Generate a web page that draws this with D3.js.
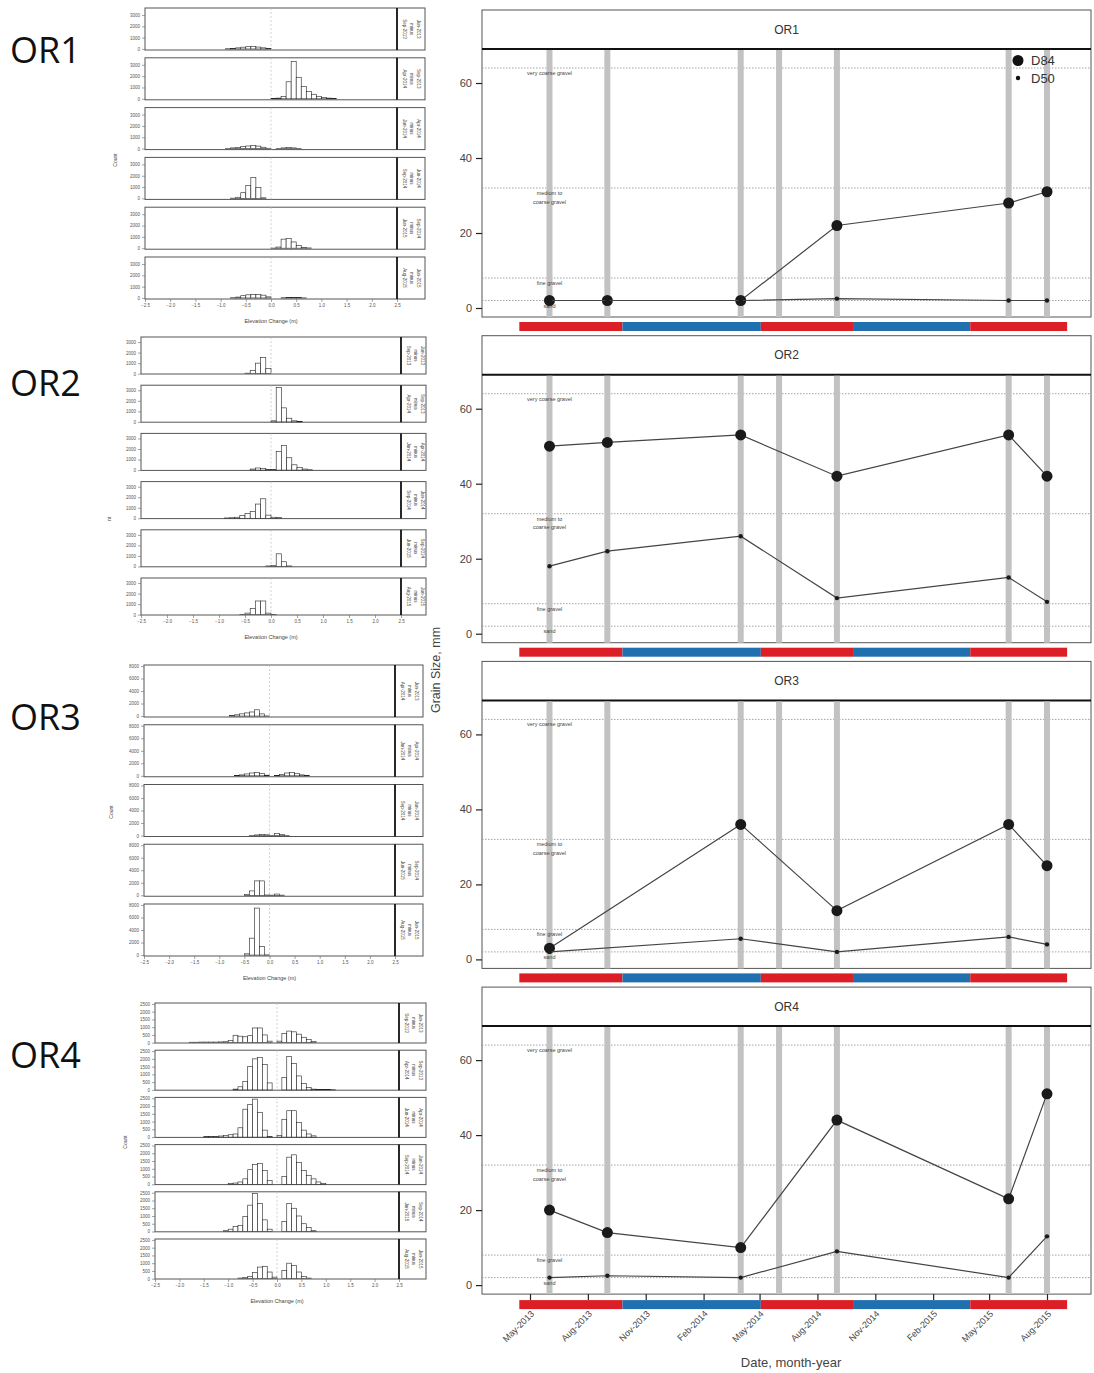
<!DOCTYPE html>
<html>
<head>
<meta charset="utf-8">
<script src="https://cdn.jsdelivr.net/npm/d3@7"></script>
<style>
body{margin:0;background:#fff;}
svg{display:block;font-family:"Liberation Sans",Arial,sans-serif;}
</style>
</head>
<body>
<svg id="fig" width="1094" height="1373"></svg>
<script>
//Sites, one histogram column and one grain size panel each
var sites = ["OR1","OR2","OR3","OR4"];

//Survey dates (grey vertical lines)
var surveyDates = ["2013-06-01","2013-09-01","2014-04-01","2014-06-01","2014-09-01","2015-06-01","2015-08-01"];

//Grain size per survey, mm (null = not sampled)
var d84 = [
    [2, 2, 2, null, 22, 28, 31],
    [50, 51, 53, null, 42, 53, 42],
    [3, null, 36, null, 13, 36, 25],
    [20, 14, 10, null, 44, 23, 51]
];
var d50 = [
    [2, 2, 2, null, 2.5, 2, 2],
    [18, 22, 26, null, 9.5, 15, 8.5],
    [2, null, 5.5, null, 2, 6, 4],
    [2, 2.5, 2, null, 9, 2, 13]
];

//Wet / dry season bar under each panel
var seasonStart = ["2013-04-14","2013-09-25","2014-05-03","2014-09-28","2015-04-01"];
var seasonEnd   = ["2013-09-25","2014-05-03","2014-09-28","2015-04-01","2015-09-02"];
var seasonType  = ["dry","wet","dry","wet","dry"];

//Grain size classes (dotted lines), label sits just under its line
var classBreaks = [2, 8, 32, 64];
var classLabels = [["sand"], ["fine gravel"], ["medium to","coarse gravel"], ["very coarse gravel"]];

//Axis ticks
var gsTicks = [0, 20, 40, 60];
var dateTicks = ["2013-05-01","2013-08-01","2013-11-01","2014-02-01","2014-05-01","2014-08-01","2014-11-01","2015-02-01","2015-05-01","2015-08-01"];
var elevTicks = [-2.5,-2.0,-1.5,-1.0,-0.5,0.0,0.5,1.0,1.5,2.0,2.5];
var countTicks = [
    [0,1000,2000,3000],
    [0,1000,2000,3000],
    [0,2000,4000,6000,8000],
    [0,500,1000,1500,2000,2500]
];
var countLabels = ["Count","nt","Count","Count"];

//Elevation change histograms: first bin edge (m) and counts per 0.1 m bin
var binWidth = 0.1;
var histStarts = [
    [-0.9, 0.0, -0.9, -0.8, 0.0, -0.8],
    [-0.5, 0.0, -0.4, -0.9, -0.1, -0.6],
    [-0.8, -0.7, -0.4, -0.5, -0.5],
    [-1.8, -0.9, -1.5, -1.0, -1.1, -0.8]
];
var histCounts = [
    [
        [20,50,100,160,200,210,170,100,30],
        [20,60,200,1500,3300,1900,1100,650,400,220,120,60,20],
        [20,60,110,170,230,270,220,120,30,0,20,60,80,60,20],
        [20,100,500,1150,1850,950,50],
        [10,100,800,850,550,250,80,20],
        [20,80,200,280,300,300,250,100,0,0,20,50,60,40,10]
    ],
    [
        [50,300,1000,1550,500],
        [100,3250,1330,350,100,20],
        [100,200,150,50,50,1780,2330,1170,500,250,100,30],
        [30,50,100,250,450,650,1350,1850,300,100,80],
        [50,100,1200,450,50],
        [30,150,600,1300,1300,150,20]
    ],
    [
        [100,200,350,500,650,1000,350,20],
        [50,150,300,450,550,400,100,0,50,200,450,500,350,150,50],
        [30,100,150,120,30,300,150,40],
        [150,700,2300,2300,50,30,200,30],
        [200,2700,7500,1350,30]
    ],
    [
        [30,30,40,40,40,40,50,60,150,480,420,380,450,950,950,500,100,0,100,600,750,700,550,350,200,80],
        [50,200,530,1500,2000,2100,1650,450,0,0,800,2150,1700,900,400,150,50,20,20,20,10],
        [40,40,40,70,100,150,200,600,1800,2100,2450,1600,450,50,0,100,1150,1700,1700,950,450,200,80],
        [40,80,150,350,940,1280,1350,900,250,0,0,500,1750,1900,1400,900,560,350,150,50],
        [50,150,320,400,960,1700,2450,1800,750,150,0,0,640,1800,1500,1000,500,250,50],
        [40,80,150,400,750,800,430,100,0,530,1000,850,430,150,40]
    ]
];
var countDomains = [[-90,3620],[-30,3480],[-150,8150],[-20,2560]];

//Strip text of each histogram (survey pair)
var stripLabels = [
    [["Sep-2013","minus","Jun-2013"],["Apr-2014","minus","Sep-2013"],["Jun-2014","minus","Apr-2014"],["Sep-2014","minus","Jun-2014"],["Jun-2015","minus","Sep-2014"],["Aug-2015","minus","Jun-2015"]],
    [["Sep-2013","minus","Jun-2013"],["Apr-2014","minus","Sep-2013"],["Jun-2014","minus","Apr-2014"],["Sep-2014","minus","Jun-2014"],["Jun-2015","minus","Sep-2014"],["Aug-2015","minus","Jun-2015"]],
    [["Apr-2014","minus","Jun-2013"],["Jun-2014","minus","Apr-2014"],["Sep-2014","minus","Jun-2014"],["Jun-2015","minus","Sep-2014"],["Aug-2015","minus","Jun-2015"]],
    [["Sep-2013","minus","Jun-2013"],["Apr-2014","minus","Sep-2013"],["Jun-2014","minus","Apr-2014"],["Sep-2014","minus","Jun-2014"],["Jun-2015","minus","Sep-2014"],["Aug-2015","minus","Jun-2015"]]
];

var parseDate = d3.timeParse("%Y-%m-%d");
var svg = d3.select("#fig");

/**
* Draws the stacked histograms of one site on the left
* @param {number} k site index
*/
var histLayout = [
    {top: 8,    pitch: 49.8,  h: 42, x0: 145, x1: 397, strip: 425, labX: 117, labY: 160, bigY: 50},
    {top: 337,  pitch: 48.2,  h: 37, x0: 141, x1: 401, strip: 426, labX: 111, labY: 519, bigY: 383},
    {top: 665,  pitch: 59.75, h: 52, x0: 144, x1: 395, strip: 423, labX: 113, labY: 812, bigY: 717},
    {top: 1003, pitch: 47.2,  h: 40, x0: 155, x1: 399, strip: 426, labX: 127, labY: 1142, bigY: 1055}
];

function tinyAxis(sel){
    sel.select(".domain").remove();
    sel.selectAll("line").attr("stroke","#666").attr("stroke-width",0.6);
    sel.selectAll("text").attr("font-size",4.5).attr("fill","#555");
}

function drawHistGroup(k){
    var L = histLayout[k];
    var g = svg.append("g");
    var x = d3.scaleLinear().domain([-2.5,2.5]).range([L.x0, L.x1]);
    var n = histCounts[k].length;

    //big site label
    svg.append("text")
        .attr("x",10).attr("y",L.bigY).attr("dy","0.36em")
        .attr("font-family","'Open Sans',sans-serif")
        .attr("font-size",36).attr("fill","#111")
        .text(sites[k]);

    histCounts[k].forEach(function(counts, j){
        var top = L.top + j*L.pitch, bottom = top + L.h;
        var y = d3.scaleLinear().domain(countDomains[k]).range([bottom, top]);
        var p = g.append("g");

        p.append("rect")
            .attr("x",L.x0).attr("y",top)
            .attr("width",L.strip-L.x0).attr("height",L.h)
            .attr("fill","#fff").attr("stroke","#555").attr("stroke-width",1);

        //zero reference
        p.append("line")
            .attr("x1",x(0)).attr("x2",x(0)).attr("y1",top).attr("y2",bottom)
            .attr("stroke","#bbb").attr("stroke-width",0.7).attr("stroke-dasharray","2,2");

        var bins = counts.map(function(c,i){
            return {x0: histStarts[k][j] + i*binWidth, x1: histStarts[k][j] + (i+1)*binWidth, n: c};
        });
        p.selectAll("rect.bar").data(bins).enter().append("rect")
            .attr("class","bar")
            .attr("x",function(d){ return x(d.x0); })
            .attr("width",function(d){ return x(d.x1)-x(d.x0); })
            .attr("y",function(d){ return y(d.n); })
            .attr("height",function(d){ return y(0)-y(d.n); })
            .attr("fill","#fff").attr("stroke","#222").attr("stroke-width",0.6);

        //strip divider and text
        p.append("line")
            .attr("x1",L.x1).attr("x2",L.x1).attr("y1",top).attr("y2",bottom)
            .attr("stroke","#111").attr("stroke-width",1.8);
        stripLabels[k][j].forEach(function(s,m){
            p.append("text")
                .attr("transform","translate("+(L.x1+6+m*7)+","+(top+L.h/2)+") rotate(90)")
                .attr("text-anchor","middle")
                .attr("font-size",4.5).attr("fill","#444")
                .text(s);
        });

        p.append("g")
            .attr("transform","translate("+L.x0+",0)")
            .call(d3.axisLeft(y).tickValues(countTicks[k]).tickSize(3).tickPadding(2).tickFormat(d3.format("d")))
            .call(tinyAxis);

        if( j === n-1 ){
            p.append("g")
                .attr("transform","translate(0,"+bottom+")")
                .call(d3.axisBottom(x).tickValues(elevTicks).tickSize(3).tickPadding(2).tickFormat(d3.format(".1f")))
                .call(tinyAxis);
            p.append("text")
                .attr("x",(L.x0+L.x1)/2).attr("y",bottom+24)
                .attr("text-anchor","middle").attr("font-size",5.5).attr("fill","#444")
                .text("Elevation Change (m)");
        }
    });

    svg.append("text")
        .attr("transform","translate("+L.labX+","+L.labY+") rotate(-90)")
        .attr("text-anchor","middle").attr("font-size",5).attr("fill","#444")
        .text(countLabels[k]);
}

//Grain size panels on the right
var px0 = 482, px1 = 1091, stripH = 39, plotH = 307, panelStep = 325.7;
var x = d3.scaleTime()
    .domain([parseDate("2013-05-01"), parseDate("2015-08-01")])
    .range([530, 1047]);

function drawGrainPanel(k){
    var top = 10 + k*panelStep;
    var plotTop = top + stripH, bottom = top + plotH;
    var y = d3.scaleLinear().domain([-2.4, 69.07]).range([bottom, plotTop]);
    var g = svg.append("g");

    g.append("rect")
        .attr("x",px0).attr("y",top).attr("width",px1-px0).attr("height",plotH)
        .attr("fill","#fff").attr("stroke","#555").attr("stroke-width",1);

    //strip
    g.append("text")
        .attr("x",(px0+px1)/2).attr("y",top+stripH/2).attr("dy","0.35em")
        .attr("text-anchor","middle").attr("font-size",12).attr("fill","#333")
        .text(sites[k]);
    g.append("line")
        .attr("x1",px0).attr("x2",px1).attr("y1",plotTop).attr("y2",plotTop)
        .attr("stroke","#111").attr("stroke-width",2);

    //class lines
    g.selectAll("line.cls").data(classBreaks).enter().append("line")
        .attr("class","cls")
        .attr("x1",px0).attr("x2",px1)
        .attr("y1",function(d){ return y(d); }).attr("y2",function(d){ return y(d); })
        .attr("stroke","#999").attr("stroke-width",0.9).attr("stroke-dasharray","1.5,1.5");

    //survey lines
    g.selectAll("line.survey").data(surveyDates).enter().append("line")
        .attr("class","survey")
        .attr("x1",function(d){ return x(parseDate(d)); })
        .attr("x2",function(d){ return x(parseDate(d)); })
        .attr("y1",plotTop+1).attr("y2",bottom)
        .attr("stroke","#c2c2c2").attr("stroke-width",6);

    //class labels under the first survey
    var lx = x(parseDate(surveyDates[0]));
    classBreaks.forEach(function(b,i){
        classLabels[i].forEach(function(s,m){
            g.append("text")
                .attr("x",lx).attr("y",y(b)+7+m*8.5)
                .attr("text-anchor","middle").attr("font-size",5.5).attr("fill","#444")
                .text(s);
        });
    });

    var line = d3.line()
        .x(function(d){ return x(d.date); })
        .y(function(d){ return y(d.v); });

    [{vals: d84[k], r: 5.5}, {vals: d50[k], r: 2.2}].forEach(function(s){
        var pts = surveyDates.map(function(d,i){ return {date: parseDate(d), v: s.vals[i]}; })
            .filter(function(d){ return d.v !== null; });
        g.append("path").datum(pts)
            .attr("d",line).attr("fill","none")
            .attr("stroke","#444").attr("stroke-width",1.2);
        g.selectAll(null).data(pts).enter().append("circle")
            .attr("cx",function(d){ return x(d.date); })
            .attr("cy",function(d){ return y(d.v); })
            .attr("r",s.r).attr("fill","#1a1a1a");
    });

    //y axis
    var ya = g.append("g")
        .attr("transform","translate("+px0+",0)")
        .call(d3.axisLeft(y).tickValues(gsTicks).tickSize(6).tickPadding(4));
    ya.select(".domain").remove();
    ya.selectAll("line").attr("stroke","#222").attr("stroke-width",1.2);
    ya.selectAll("text").attr("font-size",11).attr("fill","#444");

    //season bar
    var barY = k === sites.length-1 ? bottom+6 : bottom+5;
    g.selectAll("rect.season").data(seasonStart).enter().append("rect")
        .attr("class","season")
        .attr("x",function(d){ return x(parseDate(d)); })
        .attr("width",function(d,i){ return x(parseDate(seasonEnd[i])) - x(parseDate(d)); })
        .attr("y",barY).attr("height",9)
        .attr("fill",function(d,i){ return seasonType[i] === "dry" ? "#dc1f26" : "#2070b0"; });

    if( k === 0 ){
        var leg = g.append("g");
        leg.append("circle").attr("cx",1018).attr("cy",top+50.5).attr("r",5.5).attr("fill","#111");
        leg.append("circle").attr("cx",1018).attr("cy",top+68).attr("r",2.2).attr("fill","#111");
        leg.append("text").attr("x",1031).attr("y",top+50.5).attr("dy","0.35em")
            .attr("font-size",13).attr("fill","#333").text("D84");
        leg.append("text").attr("x",1031).attr("y",top+68).attr("dy","0.35em")
            .attr("font-size",13).attr("fill","#333").text("D50");
    }

    if( k === sites.length-1 ){
        var xa = g.append("g")
            .attr("transform","translate(0,"+bottom+")")
            .call(d3.axisBottom(x)
                .tickValues(dateTicks.map(parseDate))
                .tickSize(6)
                .tickFormat(d3.timeFormat("%b-%Y")));
        xa.select(".domain").remove();
        xa.selectAll("line").attr("stroke","#222").attr("stroke-width",1.2);
        xa.selectAll("text")
            .attr("x",0).attr("y",0).attr("dy","0.35em")
            .attr("transform","translate(2,18) rotate(-45)")
            .style("text-anchor","end")
            .attr("font-size",9).attr("fill","#444");
        svg.append("text")
            .attr("x",791).attr("y",1362).attr("dy","0.35em")
            .attr("text-anchor","middle").attr("font-size",13).attr("fill","#444")
            .text("Date, month-year");
    }
}

sites.forEach(function(s,k){
    drawHistGroup(k);
    drawGrainPanel(k);
});

svg.append("text")
    .attr("transform","translate(440,670) rotate(-90)")
    .attr("text-anchor","middle").attr("font-size",12.5).attr("fill","#444")
    .text("Grain Size, mm");
</script>
</body>
</html>
